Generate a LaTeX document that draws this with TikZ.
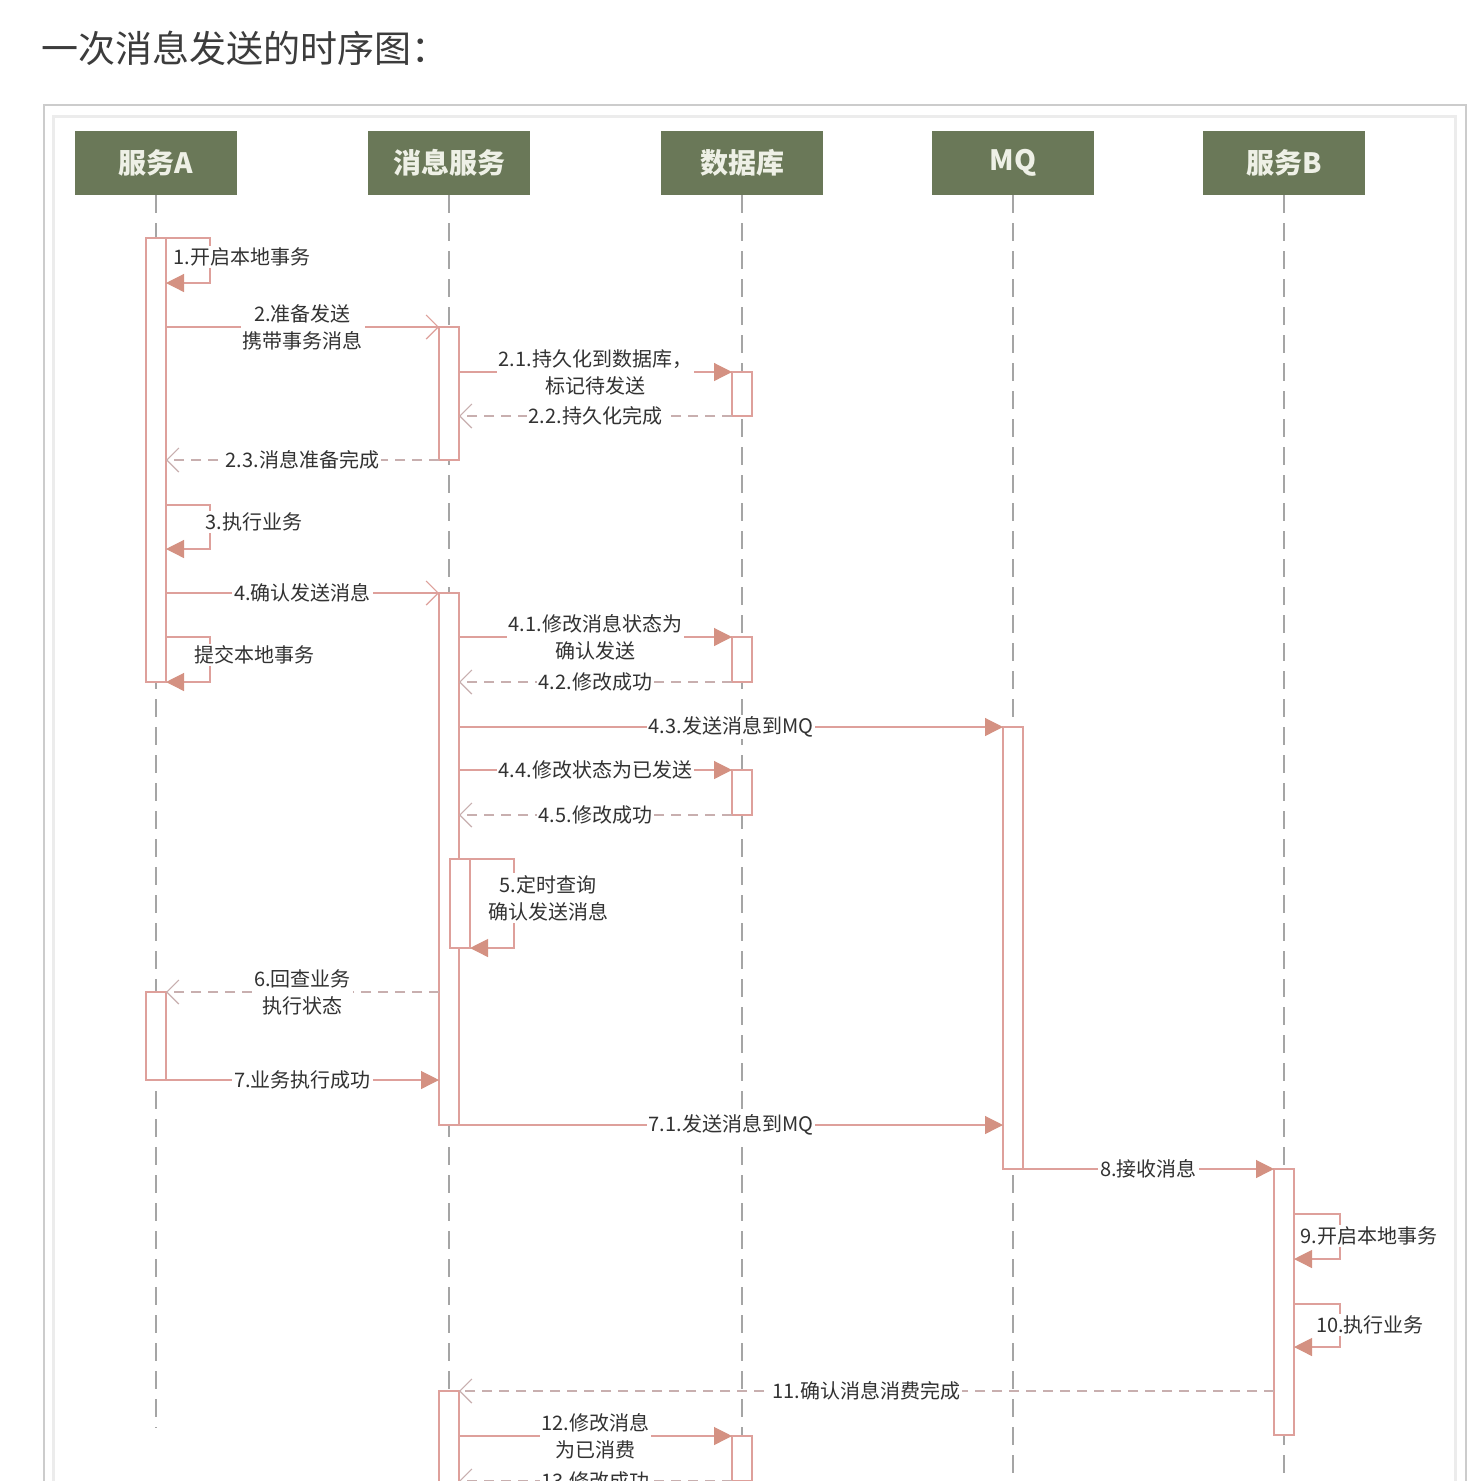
\documentclass[tikz,border=0pt]{standalone}
\usepackage{fontspec}
\setmainfont{Noto Sans CJK SC}
\usetikzlibrary{arrows.meta, positioning}
\definecolor{hdrgreen}{RGB}{106,120,88}
\definecolor{hdrtext}{RGB}{238,240,230}
\definecolor{lifegray}{RGB}{165,165,165}
\definecolor{actred}{RGB}{222,160,155}
\definecolor{tipred}{RGB}{212,145,130}
\definecolor{retgray}{RGB}{200,175,175}
\definecolor{txtgray}{RGB}{50,50,50}
\definecolor{titlegray}{RGB}{60,60,60}

\begin{document}
\begin{tikzpicture}[x=0.5pt, y=-0.5pt, font=\fontsize{10}{13.5}\selectfont,
    hdr/.style={fill=hdrgreen, text=hdrtext, font=\fontsize{14}{16}\selectfont\bfseries,
        minimum width=81pt, minimum height=32pt, inner sep=0pt},
    life/.style={draw=lifegray, dash pattern=on 9pt off 5pt, line width=0.6pt},
    act/.style={draw=actred, fill=white, line width=0.6pt, minimum width=10pt,
        inner sep=0pt, outer sep=0pt},
    msg/.style={draw=actred, line width=0.6pt, -{Triangle[length=9pt, width=9pt, color=tipred]}},
    callo/.style={draw=actred, line width=0.6pt, -{Straight Barb[length=6pt, width=12pt]}},
    ret/.style={draw=retgray, line width=0.6pt, dash pattern=on 5pt off 3.5pt,
        -{Straight Barb[length=6pt, width=12pt]}},
    lbl/.style={fill=white, inner sep=1pt, align=center, text=txtgray}]

    \useasboundingbox (0,0) rectangle (1484,1480);
    \clip (0,0) rectangle (1484,1480);
    \fill[white] (0,0) rectangle (1484,1480);

    \node[anchor=west, text=titlegray, font=\fontsize{18.5}{20}\selectfont] (title) at (34,48) {一次消息发送的时序图：};
    \draw[gray!40, line width=1pt] (44,105) rectangle (1466,1500);
    \draw[gray!15, line width=1.5pt] (53,116) rectangle (1455,1500);

    \node[hdr] (hA) at (156,163) {服务A};
    \node[hdr] (hM) at (449,163) {消息服务};
    \node[hdr] (hD) at (742,163) {数据库};
    \node[hdr] (hQ) at (1013,163) {MQ};
    \node[hdr] (hB) at (1284,163) {服务B};

    \draw[life] (hA) -- (hA |- 0,1428);
    \draw[life] (hM) -- (hM |- 0,1490);
    \draw[life] (hD) -- (hD |- 0,1490);
    \draw[life] (hQ) -- (hQ |- 0,1490);
    \draw[life] (hB) -- (hB |- 0,1490);

    \node[act, minimum height=222pt] (a1) at (156,460) {};
    \node[act, minimum height=44pt] (a2) at (156,1036) {};
    \node[act, minimum height=66.5pt] (m1) at (449,393.5) {};
    \node[act, minimum height=266pt] (m2) at (449,859) {};
    \node[act, minimum height=44.5pt] (m2b) at (460,903.5) {};
    \node[act, minimum height=54.5pt] (m3) at (449,1445.5) {};
    \node[act, minimum height=22pt] (d1) at (742,394) {};
    \node[act, minimum height=22.5pt] (d2) at (742,659.5) {};
    \node[act, minimum height=22.5pt] (d3) at (742,792.5) {};
    \node[act, minimum height=22.5pt] (d4) at (742,1458.5) {};
    \node[act, minimum height=221pt] (q1) at (1013,948) {};
    \node[act, minimum height=133pt] (b1) at (1284,1302) {};

    \draw[msg] (a1.north east) -- ++(44,0) -- ++(0,45) -- ++(-44,0);
    \node[lbl] (t1) at (242,257) {1.开启本地事务};
    \draw[callo] (a1.east |- m1.north) -- (m1.north west) node[lbl, midway] (t2) {2.准备发送\\携带事务消息};
    \draw[msg] (m1.east |- d1.north) -- (d1.north west) node[lbl, midway] (t21) {2.1.持久化到数据库，\\标记待发送};
    \draw[ret] (d1.south west) -- (m1.east |- d1.south) node[lbl, midway] (t22) {2.2.持久化完成};
    \draw[ret] (m1.south west) -- (a1.east |- m1.south) node[lbl, midway] (t23) {2.3.消息准备完成};

    \draw[msg] (a1.east |- 0,505) -- ++(44,0) -- ++(0,44) -- ++(-44,0);
    \node[lbl] (t3) at (254,522) {3.执行业务};
    \draw[callo] (a1.east |- m2.north) -- (m2.north west) node[lbl, midway] (t4) {4.确认发送消息};
    \draw[msg] (m2.east |- d2.north) -- (d2.north west) node[lbl, midway] (t41) {4.1.修改消息状态为\\确认发送};
    \draw[ret] (d2.south west) -- (m2.east |- d2.south) node[lbl, midway] (t42) {4.2.修改成功};
    \draw[msg] (a1.east |- 0,637) -- ++(44,0) -- ++(0,45) -- (a1.south east);
    \node[lbl] (tc) at (254,655) {提交本地事务};
    \draw[msg] (m2.east |- q1.north) -- (q1.north west) node[lbl, midway] (t43) {4.3.发送消息到MQ};
    \draw[msg] (m2.east |- d3.north) -- (d3.north west) node[lbl, midway] (t44) {4.4.修改状态为已发送};
    \draw[ret] (d3.south west) -- (m2.east |- d3.south) node[lbl, midway] (t45) {4.5.修改成功};

    \draw[msg] (m2b.north east) -- ++(44,0) -- ++(0,89) -- (m2b.south east);
    \node[lbl] (t5) at (548,898) {5.定时查询\\确认发送消息};
    \draw[ret] (m2.west |- a2.north) -- (a2.north east) node[lbl, midway] (t6) {6.回查业务\\执行状态};
    \draw[msg] (a2.south east) -- (m2.west |- a2.south) node[lbl, midway] (t7) {7.业务执行成功};
    \draw[msg] (m2.south east) -- (q1.west |- m2.south) node[lbl, midway] (t71) {7.1.发送消息到MQ};
    \draw[msg] (q1.south east) -- (b1.north west) node[lbl, midway] (t8) {8.接收消息};

    \draw[msg] (b1.east |- 0,1214) -- ++(46,0) -- ++(0,45) -- ++(-46,0);
    \node[lbl] (t9) at (1369,1236) {9.开启本地事务};
    \draw[msg] (b1.east |- 0,1304) -- ++(46,0) -- ++(0,43) -- ++(-46,0);
    \node[lbl] (t10) at (1370,1325) {10.执行业务};
    \draw[ret] (b1.west |- m3.north) -- (m3.north east) node[lbl, midway] (t11) {11.确认消息消费完成};
    \draw[msg] (m3.east |- d4.north) -- (d4.north west) node[lbl, midway] (t12) {12.修改消息\\为已消费};
    \draw[ret] (d4.south west) -- (m3.east |- d4.south) node[lbl, midway] (t13) {13.修改成功};
\end{tikzpicture}
\end{document}
